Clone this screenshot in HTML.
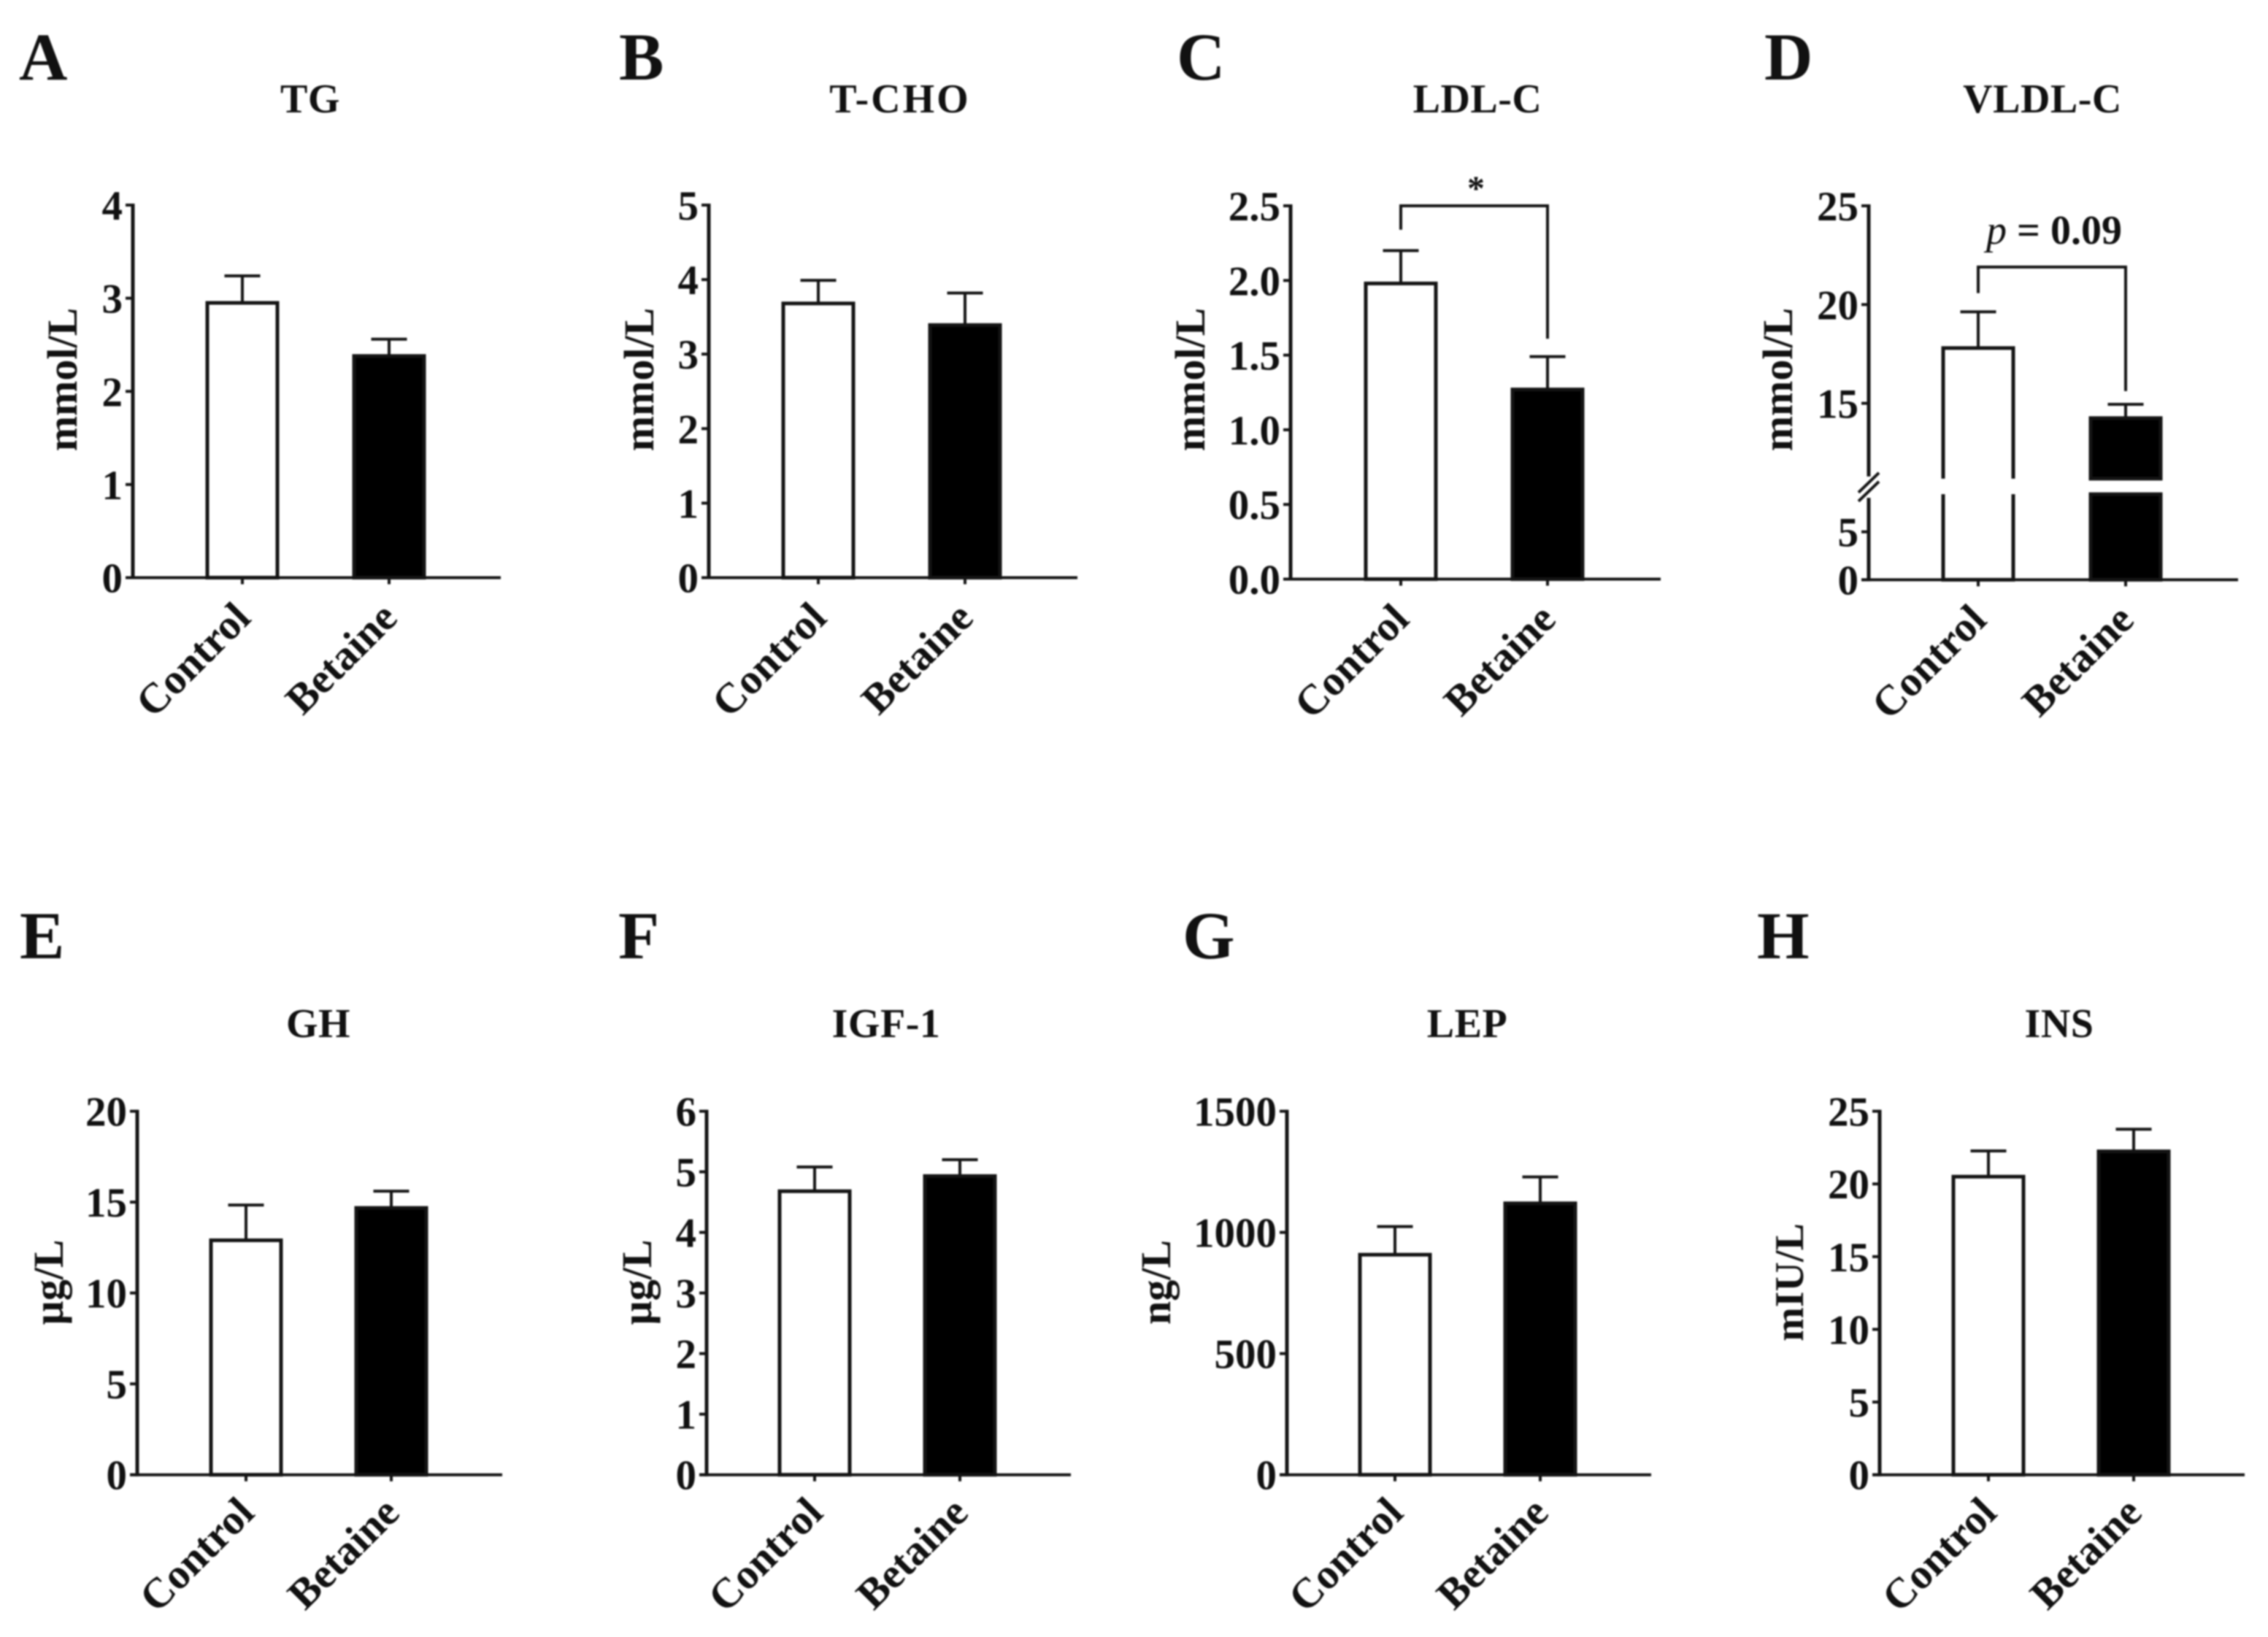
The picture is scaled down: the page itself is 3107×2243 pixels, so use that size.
<!DOCTYPE html>
<html lang="en">
<head>
<meta charset="utf-8">
<title>Serum lipid and hormone bar charts: Control vs Betaine</title>
<style>
html,body{margin:0;padding:0;background:#fff;width:3107px;height:2243px;overflow:hidden}
svg{display:block;filter:blur(1.1px)}
text{font-family:"Liberation Serif",serif;font-weight:700;fill:#111}
.letter{font-size:92px}
.title{font-size:56px;text-anchor:middle;letter-spacing:0.5px}
.ylabel{font-size:58px;text-anchor:middle}
</style>
</head>
<body>
<svg id="figure" xmlns="http://www.w3.org/2000/svg" width="3107" height="2243" viewBox="0 0 3107 2243">
  <rect width="3107" height="2243" fill="#fff"/>

  <text class="letter" x="26" y="109">A</text>
  <text class="letter" x="848" y="109">B</text>
  <text class="letter" x="1612" y="109">C</text>
  <text class="letter" x="2417" y="109">D</text>
  <text class="letter" x="27" y="1313">E</text>
  <text class="letter" x="847" y="1313">F</text>
  <text class="letter" x="1620" y="1313">G</text>
  <text class="letter" x="2407" y="1313">H</text>

  <text class="title" x="425" y="154">TG</text>
  <text class="title" x="1233" y="154" style="letter-spacing:3px">T-CHO</text>
  <text class="title" x="2024" y="154">LDL-C</text>
  <text class="title" x="2798" y="154">VLDL-C</text>
  <text class="title" x="436" y="1421">GH</text>
  <text class="title" x="1214" y="1421">IGF-1</text>
  <text class="title" x="2010" y="1421">LEP</text>
  <text class="title" x="2821" y="1421">INS</text>

  <text class="ylabel" transform="translate(105 520) rotate(-90)">mmol/L</text>
  <text class="ylabel" transform="translate(895 520) rotate(-90)">mmol/L</text>
  <text class="ylabel" transform="translate(1650 520) rotate(-90)">mmol/L</text>
  <text class="ylabel" transform="translate(2455 520) rotate(-90)">mmol/L</text>
  <text class="ylabel" transform="translate(86 1757) rotate(-90)">µg/L</text>
  <text class="ylabel" transform="translate(892 1757) rotate(-90)">µg/L</text>
  <text class="ylabel" transform="translate(1603 1757) rotate(-90)">ng/L</text>
  <text class="ylabel" transform="translate(2470 1757) rotate(-90)" style="font-size:56px">mIU/L</text>

  <text x="2022" y="274" font-size="48" text-anchor="middle">*</text>
  <text x="2814" y="334" font-size="56" text-anchor="middle"><tspan font-style="italic" font-weight="400">p</tspan> = 0.09</text>

  <g id="marks"></g>
</svg>

<script>
const categories = ['Control', 'Betaine'];

const tgMeans = [2.95, 2.38];
const tgErrors = [0.29, 0.18];
const tgTicks = ['0', '1', '2', '3', '4'];

const tchoMeans = [3.68, 3.39];
const tchoErrors = [0.31, 0.43];
const tchoTicks = ['0', '1', '2', '3', '4', '5'];

const ldlMeans = [1.98, 1.27];
const ldlErrors = [0.22, 0.22];
const ldlTicks = ['0.0', '0.5', '1.0', '1.5', '2.0', '2.5'];

const vldlMeans = [17.8, 14.25];
const vldlErrors = [1.83, 0.7];
const vldlTicks = ['0', '5', '15', '20', '25'];

const ghMeans = [12.9, 14.68];
const ghErrors = [1.94, 0.92];
const ghTicks = ['0', '5', '10', '15', '20'];

const igfMeans = [4.68, 4.93];
const igfErrors = [0.4, 0.27];
const igfTicks = ['0', '1', '2', '3', '4', '5', '6'];

const lepMeans = [908, 1120];
const lepErrors = [116, 109];
const lepTicks = ['0', '500', '1000', '1500'];

const insMeans = [20.5, 22.24];
const insErrors = [1.77, 1.52];
const insTicks = ['0', '5', '10', '15', '20', '25'];

const NS = 'http://www.w3.org/2000/svg';
const INK = '#141414';
const root = document.getElementById('marks');

function make(tag, attrs, parent) {
  const el = document.createElementNS(NS, tag);
  for (const k in attrs) el.setAttribute(k, attrs[k]);
  parent.appendChild(el);
  return el;
}

function line(x1, y1, x2, y2, w, parent) {
  return make('line', { x1: x1, y1: y1, x2: x2, y2: y2, stroke: INK, 'stroke-width': w }, parent);
}

function linearScale(maxValue, top, base) {
  return function (v) { return base - (v / maxValue) * (base - top); };
}

// Broken axis of panel D: 0-9 in the lower segment, 11-25 in the upper one.
function brokenScale(top, base) {
  const upperUnit = (552.6 - top) / 10;
  const lowerUnit = (base - 728.7) / 5;
  return function (v) {
    return v <= 10 ? base - v * lowerUnit : top + (25 - v) * upperUnit;
  };
}

function drawPanel(p) {
  const g = make('g', {}, root);
  
  

  const y = p.scale;
  const xPos = function (i) { return p.firstX + i * p.step; };

  // Bars and error bars first, so the axes sit on top.
  p.means.forEach(function (mean, i) {
    const cx = xPos(i);
    const topY = y(mean);
    const capY = y(mean + p.errors[i]);
    const filled = i === 1;
    const left = cx - p.barHalf;
    const right = cx + p.barHalf;

    const stem = line(cx, topY, cx, capY, 4, g);
    
    

    const cap = line(cx - 24.5, capY, cx + 24.5, capY, 4, g);
    
    

    if (p.gap) {
      const gapTop = y(p.gap[1]) - 5;
      const gapBottom = y(p.gap[0]) + 1;
      const upperD = 'M' + left + ' ' + gapTop + 'V' + topY + 'H' + right + 'V' + gapTop + (filled ? 'Z' : '');
      const upper = make('path', { d: upperD, fill: filled ? '#000' : '#fff', stroke: INK, 'stroke-width': 5 }, g);
      
      
      const lowerD = 'M' + left + ' ' + gapBottom + 'V' + p.base + 'H' + right + 'V' + gapBottom + (filled ? 'Z' : '');
      const lower = make('path', { d: lowerD, fill: filled ? '#000' : '#fff', stroke: INK, 'stroke-width': 5 }, g);
      
      
    } else {
      const bar = make('rect', { x: left, y: topY, width: p.barHalf * 2, height: p.base - topY, fill: filled ? '#000' : '#fff', stroke: INK, 'stroke-width': 5 }, g);
      
      
    }

    const tick = line(cx, p.base, cx, p.base + 9, 4, g);
    
    

    const lx = cx + p.labelDx;
    const ly = p.base + p.labelDy;
    const label = make('text', { transform: 'translate(' + lx + ' ' + ly + ') rotate(-45)', 'text-anchor': 'end', 'font-size': 58 }, g);
    label.textContent = categories[i];
    
    
  });

  // Y axis
  if (p.gap) {
    const upperAxis = line(p.axisX, p.top - 2, p.axisX, y(p.gap[1]) - 8, 5, g);
    
    
    const lowerAxis = line(p.axisX, y(p.gap[0]) + 6, p.axisX, p.base + 2, 5, g);
    
    
    const breakA = line(p.axisX - 14, y(p.gap[1]) + 14, p.axisX + 14, y(p.gap[1]) - 13, 4, g);
    
    
    const breakB = line(p.axisX - 14, y(p.gap[1]) + 26, p.axisX + 14, y(p.gap[1]) - 1, 4, g);
    
    
  } else {
    const axis = line(p.axisX, p.top - 2, p.axisX, p.base + 2, 5, g);
    
    
  }

  // X axis
  const xAxis = line(p.axisX - 10, p.base, p.endX, p.base, 4, g);
  
  

  // Y ticks and their labels
  p.ticks.forEach(function (t) {
    const ty = y(Number(t));
    const tick = line(p.axisX - 10, ty, p.axisX, ty, 4, g);
    
    

    const label = make('text', { x: p.axisX - 14, y: ty + 20, 'text-anchor': 'end', 'font-size': 57 }, g);
    label.textContent = t;
    
    
  });

  // Significance bracket
  if (p.bracket) {
    const b = p.bracket;
    const bTop = y(b.level);
    const d = 'M' + xPos(0) + ' ' + y(b.leftEnd) + 'V' + bTop + 'H' + xPos(1) + 'V' + y(b.rightEnd);
    const path = make('path', { d: d, fill: 'none', stroke: INK, 'stroke-width': 4 }, g);
    
    
  }
}

drawPanel({ key: 'tg', means: tgMeans, errors: tgErrors, ticks: tgTicks, scale: linearScale(4, 281, 791.5), top: 281, base: 791.5, axisX: 182, endX: 686, firstX: 332, step: 201, barHalf: 48, labelDx: 14, labelDy: 58 });
drawPanel({ key: 't-cho', means: tchoMeans, errors: tchoErrors, ticks: tchoTicks, scale: linearScale(5, 281, 791.5), top: 281, base: 791.5, axisX: 971, endX: 1476, firstX: 1121, step: 201, barHalf: 48, labelDx: 14, labelDy: 58 });
drawPanel({ key: 'ldl-c', means: ldlMeans, errors: ldlErrors, ticks: ldlTicks, scale: linearScale(2.5, 282, 793.5), top: 282, base: 793.5, axisX: 1768, endX: 2275, firstX: 1919, step: 201, barHalf: 48, labelDx: 14, labelDy: 58, bracket: { level: 2.5, leftEnd: 2.34, rightEnd: 1.61 } });
drawPanel({ key: 'vldl-c', means: vldlMeans, errors: vldlErrors, ticks: vldlTicks, scale: brokenScale(282, 794.4), top: 282, base: 794.4, axisX: 2560, endX: 3066, firstX: 2710, step: 202, barHalf: 48, labelDx: 14, labelDy: 58, gap: [9, 11], bracket: { level: 21.9, leftEnd: 20.58, rightEnd: 15.62 } });
drawPanel({ key: 'gh', means: ghMeans, errors: ghErrors, ticks: ghTicks, scale: linearScale(20, 1522.6, 2020.7), top: 1522.6, base: 2020.7, axisX: 188, endX: 688, firstX: 337, step: 199, barHalf: 48, labelDx: 14, labelDy: 55 });
drawPanel({ key: 'igf-1', means: igfMeans, errors: igfErrors, ticks: igfTicks, scale: linearScale(6, 1522.6, 2020.7), top: 1522.6, base: 2020.7, axisX: 968, endX: 1467, firstX: 1116, step: 199, barHalf: 48, labelDx: 14, labelDy: 55 });
drawPanel({ key: 'lep', means: lepMeans, errors: lepErrors, ticks: lepTicks, scale: linearScale(1500, 1522.6, 2020.7), top: 1522.6, base: 2020.7, axisX: 1763, endX: 2262, firstX: 1911, step: 199, barHalf: 48, labelDx: 14, labelDy: 55 });
drawPanel({ key: 'ins', means: insMeans, errors: insErrors, ticks: insTicks, scale: linearScale(25, 1522.6, 2020.7), top: 1522.6, base: 2020.7, axisX: 2575, endX: 3075, firstX: 2724, step: 199, barHalf: 48, labelDx: 14, labelDy: 55 });
</script>
</body>
</html>
